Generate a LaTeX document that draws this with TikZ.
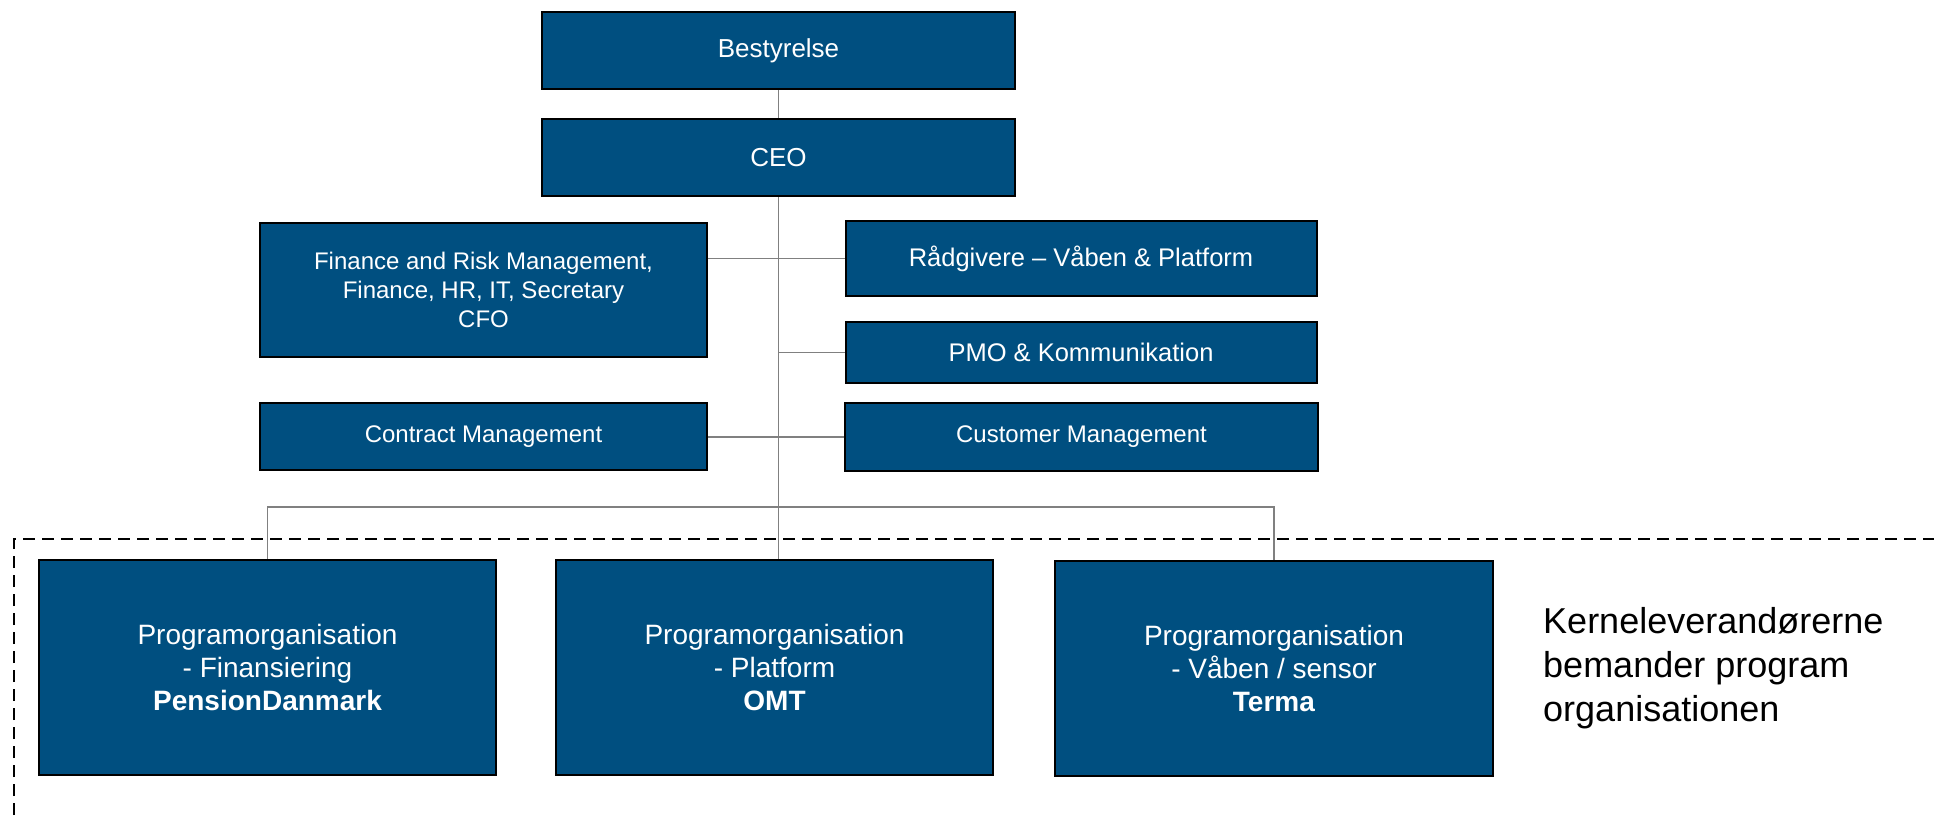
\documentclass[tikz,border=0pt]{standalone}
\usepackage{fontspec}
\setmainfont{Liberation Sans}
\usepackage{tikz}
\definecolor{orgblue}{RGB}{0,79,128}
\definecolor{orggray}{RGB}{128,128,128}

\begin{document}
\begin{tikzpicture}[x=1pt, y=-1pt,
  orgbox/.style={draw=black, line width=2pt, fill=orgblue, text=white, align=center, inner sep=0pt},
  conn/.style={draw=orggray, line width=1.5pt},
  topfont/.style={font=\fontsize{26}{31}\selectfont},
  advfont/.style={font=\fontsize{25.5}{30}\selectfont},
  boxfont/.style={font=\fontsize{24}{29}\selectfont},
  progfont/.style={font=\fontsize{28}{33}\selectfont}]
\useasboundingbox (0,0) rectangle (1934,815);

% Top boxes
\node[orgbox, topfont, minimum width=473pt, minimum height=77pt] (board) at (778.5, 50.5) {Bestyrelse};
\node[orgbox, topfont, minimum width=473pt, minimum height=77pt] (ceo) at (778.5, 157.5) {CEO};

% Staff boxes
\node[orgbox, boxfont, minimum width=447pt, minimum height=134pt] (finance) at (483.5, 290) {
Finance and Risk Management,\\
Finance, HR, IT, Secretary\\
CFO
};
\node[orgbox, advfont, minimum width=471pt, minimum height=75pt] (advisors) at (1081, 258.5) {Rådgivere – Våben \& Platform};
\node[orgbox, advfont, minimum width=471pt, minimum height=61pt] (pmo) at (1081, 352.5) {PMO \& Kommunikation};
\node[orgbox, boxfont, minimum width=447pt, minimum height=67pt] (contract) at (483.5, 436.5) {Contract Management};
\node[orgbox, boxfont, minimum width=473pt, minimum height=68pt] (customer) at (1081.5, 437) {Customer Management};

% Program boxes
\node[orgbox, progfont, minimum width=457pt, minimum height=215pt] (progfin) at (267.5, 667.5) {
Programorganisation\\
- Finansiering\\
\textbf{PensionDanmark}
};
\node[orgbox, progfont, minimum width=437pt, minimum height=215pt] (progplat) at (774.5, 667.5) {
Programorganisation\\
- Platform\\
\textbf{OMT}
};
\node[orgbox, progfont, minimum width=438pt, minimum height=215pt] (progweap) at (1274, 668.5) {
Programorganisation\\
- Våben / sensor\\
\textbf{Terma}
};

% Connectors
\draw[conn] (board) -- (ceo);
\draw[conn] (ceo.south) -- (ceo.south |- progplat.north);
\draw[conn] (advisors.west) -- (advisors.west -| finance.east);
\draw[conn] (pmo.west) -- (pmo.west -| ceo.south);
\draw[conn] (customer.west) -- (customer.west -| contract.east);
\draw[conn] (progfin.north) -- ++(0,-52) -| (progweap.north);

% Supplier frame
\draw[black, line width=2.5pt, dash pattern=on 12pt off 7pt] (14,815) -- (14,539) -- (1934,539);
\node[anchor=west, inner sep=0pt, align=left, font=\fontsize{36}{44}\selectfont] (note) at (1543, 668) {
Kerneleverandørerne\\
bemander program\\
organisationen
};
\end{tikzpicture}
\end{document}
